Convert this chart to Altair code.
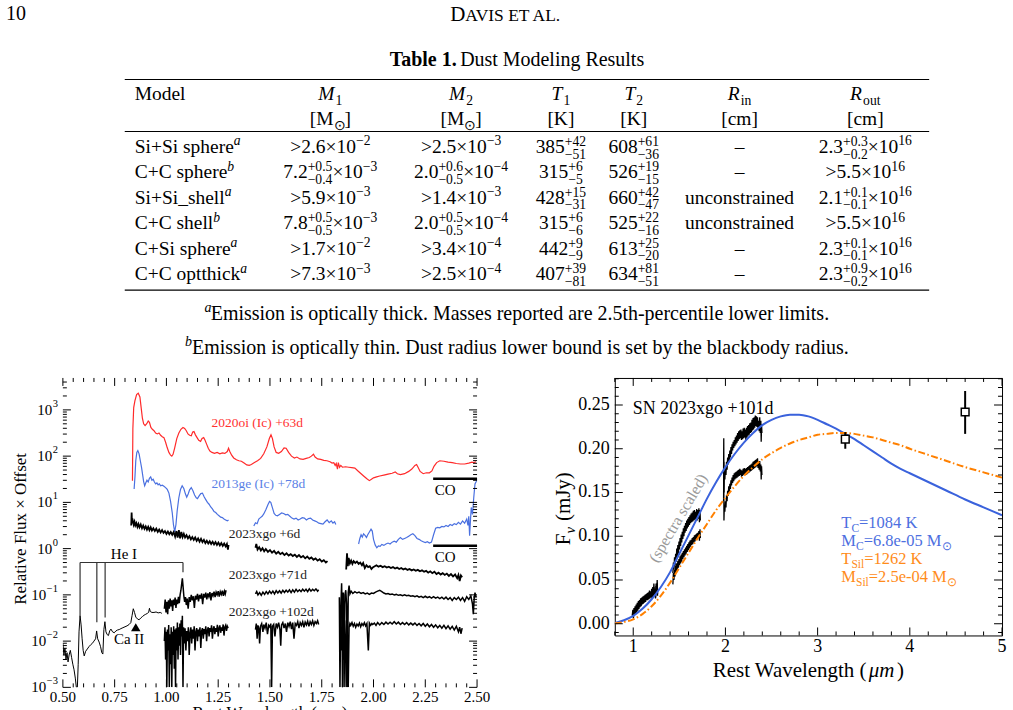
import altair as alt
import pandas as pd

FONT = "Liberation Serif"

# ---------------------------------------------------------------------------
# Left panel spectra: (rest wavelength [um], log10 relative flux x offset)
# ---------------------------------------------------------------------------
SN2020OI = [
    (0.836, 1.47), (0.838, 2.6), (0.842, 3.05), (0.848, 3.2), (0.856, 3.33), (0.864, 3.36),
    (0.872, 3.28), (0.878, 3.05), (0.884, 2.82), (0.890, 2.70), (0.897, 2.66), (0.905, 2.70),
    (0.912, 2.76), (0.918, 2.73), (0.925, 2.62), (0.932, 2.58), (0.940, 2.55), (0.948, 2.50),
    (0.956, 2.48), (0.964, 2.50), (0.972, 2.45), (0.980, 2.42), (0.988, 2.40), (0.996, 2.30),
    (1.004, 2.18), (1.012, 2.08), (1.020, 2.02), (1.026, 2.00), (1.032, 2.04), (1.040, 2.18),
    (1.050, 2.38), (1.060, 2.50), (1.070, 2.58), (1.080, 2.62), (1.088, 2.60), (1.096, 2.55),
    (1.104, 2.48), (1.112, 2.45), (1.120, 2.44), (1.127, 2.52), (1.133, 2.53), (1.140, 2.46),
    (1.148, 2.40), (1.156, 2.34), (1.165, 2.32), (1.172, 2.38), (1.180, 2.40), (1.186, 2.35),
    (1.194, 2.26), (1.202, 2.17), (1.210, 2.11), (1.220, 2.08), (1.232, 2.06), (1.245, 2.08),
    (1.258, 2.05), (1.270, 2.07), (1.282, 2.06), (1.294, 2.10), (1.300, 2.17), (1.306, 2.10),
    (1.315, 2.02), (1.325, 1.96), (1.338, 1.92), (1.350, 1.90), (1.362, 1.89), (1.375, 1.85),
    (1.388, 1.81), (1.400, 1.80), (1.410, 1.82), (1.425, 1.86), (1.440, 1.90), (1.455, 1.95),
    (1.470, 2.05), (1.485, 2.20), (1.497, 2.38), (1.505, 2.46), (1.512, 2.38), (1.520, 2.20),
    (1.530, 2.08), (1.542, 2.06), (1.555, 2.10), (1.568, 2.18), (1.578, 2.17), (1.590, 2.08),
    (1.604, 2.00), (1.618, 1.96), (1.630, 1.98), (1.645, 1.94), (1.660, 1.93), (1.675, 1.95),
    (1.690, 1.97), (1.700, 2.00), (1.710, 2.04), (1.718, 1.98), (1.730, 1.94), (1.745, 1.93),
    (1.760, 1.91), (1.775, 1.90), (1.790, 1.88), (1.800, 1.85), (1.808, 1.86), (1.815, 1.80),
    (1.820, 1.84), (1.826, 1.72), (1.830, 1.86), (1.836, 1.76), (1.842, 1.80), (1.850, 1.76),
    (1.865, 1.77), (1.880, 1.76), (1.895, 1.75), (1.910, 1.74), (1.925, 1.68), (1.940, 1.62),
    (1.955, 1.56), (1.968, 1.51), (1.980, 1.47), (1.990, 1.50), (2.000, 1.53), (2.015, 1.55),
    (2.030, 1.57), (2.050, 1.59), (2.070, 1.61), (2.090, 1.63), (2.105, 1.66), (2.115, 1.62),
    (2.130, 1.60), (2.150, 1.62), (2.170, 1.67), (2.185, 1.72), (2.200, 1.80), (2.208, 1.82),
    (2.215, 1.76), (2.225, 1.67), (2.240, 1.62), (2.255, 1.64), (2.270, 1.64), (2.282, 1.68),
    (2.292, 1.78), (2.305, 1.86), (2.320, 1.90), (2.340, 1.89), (2.360, 1.87), (2.380, 1.86),
    (2.400, 1.84), (2.420, 1.83), (2.440, 1.83), (2.460, 1.85), (2.475, 1.87), (2.485, 1.86),
    (2.495, 1.88),
]

SN2013GE = [
    [(0.844, 1.29), (0.848, 1.55), (0.852, 1.90), (0.857, 2.08), (0.862, 2.12), (0.868, 2.05),
     (0.874, 1.90), (0.880, 1.75), (0.885, 1.60), (0.890, 1.45), (0.895, 1.36), (0.900, 1.42),
     (0.906, 1.48), (0.912, 1.44), (0.918, 1.52), (0.924, 1.55), (0.930, 1.48), (0.936, 1.50),
     (0.942, 1.44), (0.948, 1.40), (0.954, 1.42), (0.960, 1.38), (0.966, 1.40), (0.972, 1.36),
     (0.980, 1.37), (0.988, 1.35), (0.996, 1.32), (1.004, 1.28), (1.012, 1.20), (1.020, 1.02),
     (1.028, 0.78), (1.034, 0.52), (1.040, 0.36), (1.046, 0.52), (1.052, 0.82), (1.060, 1.10),
     (1.068, 1.28), (1.076, 1.36), (1.084, 1.30), (1.092, 1.18), (1.098, 1.11), (1.105, 1.18),
     (1.112, 1.27), (1.120, 1.32), (1.128, 1.25), (1.136, 1.16), (1.144, 1.10), (1.150, 1.08),
     (1.158, 1.14), (1.166, 1.19), (1.174, 1.20), (1.182, 1.12), (1.190, 1.06), (1.198, 1.00),
     (1.206, 0.96), (1.214, 0.90), (1.222, 0.86), (1.230, 0.80), (1.238, 0.78), (1.246, 0.74),
     (1.254, 0.71), (1.262, 0.68), (1.270, 0.67), (1.278, 0.64), (1.286, 0.62), (1.294, 0.60),
     (1.300, 0.62)],
    [(1.422, 0.49), (1.430, 0.56), (1.438, 0.54), (1.446, 0.64), (1.454, 0.67), (1.462, 0.70),
     (1.470, 0.75), (1.480, 0.84), (1.490, 0.95), (1.498, 1.02), (1.504, 1.00), (1.512, 0.88),
     (1.520, 0.76), (1.528, 0.72), (1.536, 0.71), (1.546, 0.74), (1.556, 0.77), (1.566, 0.76),
     (1.576, 0.73), (1.586, 0.74), (1.596, 0.70), (1.606, 0.66), (1.616, 0.64), (1.626, 0.66),
     (1.636, 0.62), (1.646, 0.64), (1.656, 0.67), (1.666, 0.66), (1.676, 0.62), (1.686, 0.65),
     (1.696, 0.66), (1.706, 0.62), (1.716, 0.60), (1.726, 0.58), (1.736, 0.55), (1.746, 0.54),
     (1.756, 0.53), (1.766, 0.58), (1.776, 0.62), (1.786, 0.56), (1.796, 0.60), (1.804, 0.55),
     (1.812, 0.58), (1.818, 0.52)],
    [(1.928, 0.10), (1.934, 0.22), (1.940, 0.30), (1.946, 0.25), (1.952, 0.32), (1.960, 0.28),
     (1.966, 0.24), (1.972, 0.30), (1.980, 0.36), (1.988, 0.42), (1.994, 0.38), (2.000, 0.20),
     (2.008, 0.08), (2.016, 0.02), (2.024, 0.06), (2.032, 0.05), (2.040, 0.09), (2.050, 0.07),
     (2.060, 0.10), (2.070, 0.12), (2.080, 0.10), (2.090, 0.14), (2.100, 0.16), (2.110, 0.14),
     (2.120, 0.20), (2.130, 0.24), (2.140, 0.20), (2.150, 0.22), (2.160, 0.24), (2.170, 0.27),
     (2.180, 0.30), (2.190, 0.32), (2.200, 0.28), (2.210, 0.22), (2.220, 0.20), (2.230, 0.17),
     (2.240, 0.15), (2.250, 0.13), (2.260, 0.15), (2.270, 0.12), (2.280, 0.14), (2.290, 0.30),
     (2.300, 0.44), (2.310, 0.46), (2.320, 0.45), (2.330, 0.48), (2.340, 0.47), (2.350, 0.50),
     (2.360, 0.48), (2.370, 0.52), (2.380, 0.50), (2.390, 0.54), (2.400, 0.52), (2.410, 0.57),
     (2.420, 0.53), (2.430, 0.60), (2.440, 0.55), (2.450, 0.64), (2.456, 0.50), (2.460, 0.70),
     (2.464, 0.28), (2.468, 0.60), (2.472, 0.89), (2.478, 0.74), (2.484, 1.10), (2.490, 1.40),
     (2.496, 1.45), (2.500, 1.50)],
]

XGO_6D = [
    [(0.830, 0.50), (0.832, 0.78), (0.834, 0.55), (0.838, 0.60), (0.842, 0.52), (0.846, 0.58),
     (0.850, 0.50), (0.855, 0.55), (0.860, 0.47), (0.865, 0.53), (0.870, 0.46), (0.876, 0.52),
     (0.882, 0.44), (0.888, 0.50), (0.894, 0.43), (0.900, 0.48), (0.906, 0.41), (0.912, 0.47),
     (0.918, 0.40), (0.924, 0.46), (0.930, 0.39), (0.937, 0.44), (0.944, 0.38), (0.951, 0.43),
     (0.958, 0.36), (0.965, 0.41), (0.972, 0.35), (0.979, 0.40), (0.986, 0.34), (0.993, 0.38),
     (1.000, 0.32), (1.007, 0.37), (1.014, 0.31), (1.021, 0.36), (1.028, 0.30), (1.035, 0.36),
     (1.042, 0.26), (1.048, 0.38), (1.054, 0.24), (1.060, 0.40), (1.066, 0.22), (1.072, 0.36),
     (1.078, 0.25), (1.084, 0.32), (1.090, 0.24), (1.097, 0.29), (1.104, 0.22), (1.111, 0.27),
     (1.118, 0.20), (1.125, 0.25), (1.132, 0.19), (1.139, 0.24), (1.146, 0.17), (1.153, 0.22),
     (1.160, 0.15), (1.167, 0.21), (1.174, 0.14), (1.181, 0.19), (1.188, 0.12), (1.195, 0.17),
     (1.202, 0.11), (1.209, 0.16), (1.216, 0.10), (1.223, 0.15), (1.230, 0.09), (1.237, 0.14),
     (1.244, 0.08), (1.251, 0.13), (1.258, 0.07), (1.265, 0.12), (1.272, 0.06), (1.279, 0.11),
     (1.286, 0.05), (1.292, 0.10), (1.297, -0.02), (1.300, 0.08)],
    [(1.430, 0.02), (1.434, 0.10), (1.440, -0.02), (1.448, 0.03), (1.456, -0.04), (1.464, 0.01),
     (1.472, -0.06), (1.480, -0.01), (1.490, -0.07), (1.500, -0.03), (1.510, -0.09), (1.520, -0.05),
     (1.530, -0.11), (1.540, -0.07), (1.550, -0.12), (1.560, -0.09), (1.570, -0.14), (1.580, -0.10),
     (1.590, -0.15), (1.600, -0.12), (1.610, -0.16), (1.620, -0.13), (1.630, -0.18), (1.640, -0.14),
     (1.650, -0.19), (1.660, -0.16), (1.670, -0.21), (1.680, -0.17), (1.690, -0.22), (1.700, -0.19),
     (1.710, -0.24), (1.720, -0.21), (1.730, -0.26), (1.740, -0.23), (1.750, -0.28), (1.760, -0.25),
     (1.770, -0.30), (1.778, -0.27)],
    [(1.868, -0.45), (1.872, -0.10), (1.876, -0.38), (1.880, -0.20), (1.886, -0.32), (1.892, -0.26),
     (1.898, -0.33), (1.904, -0.27), (1.912, -0.31), (1.920, -0.28), (1.928, -0.33), (1.936, -0.30),
     (1.944, -0.36), (1.950, -0.31), (1.958, -0.42), (1.966, -0.36), (1.974, -0.40), (1.982, -0.38),
     (1.990, -0.44), (1.998, -0.40), (2.006, -0.38), (2.014, -0.36), (2.024, -0.39), (2.034, -0.37),
     (2.044, -0.40), (2.054, -0.38), (2.064, -0.41), (2.074, -0.39), (2.084, -0.42), (2.094, -0.40),
     (2.104, -0.43), (2.114, -0.41), (2.124, -0.44), (2.134, -0.42), (2.144, -0.45), (2.154, -0.43),
     (2.164, -0.46), (2.174, -0.44), (2.184, -0.47), (2.194, -0.45), (2.204, -0.48), (2.214, -0.46),
     (2.224, -0.49), (2.234, -0.47), (2.244, -0.50), (2.254, -0.48), (2.264, -0.52), (2.274, -0.49),
     (2.284, -0.53), (2.294, -0.50), (2.304, -0.55), (2.314, -0.52), (2.324, -0.56), (2.334, -0.53),
     (2.344, -0.57), (2.354, -0.54), (2.364, -0.59), (2.374, -0.55), (2.384, -0.60), (2.394, -0.56),
     (2.404, -0.64), (2.410, -0.57), (2.416, -0.70), (2.422, -0.58), (2.428, -0.62)],
]

XGO_71D_OPT = [
    (0.500, -2.05), (0.505, -2.30), (0.510, -2.15), (0.515, -2.40), (0.520, -2.25), (0.525, -2.45),
    (0.530, -2.30), (0.536, -2.20), (0.542, -2.35), (0.548, -2.50), (0.554, -2.62), (0.560, -2.80),
    (0.565, -3.0), (0.570, -3.0), (0.574, -2.5), (0.578, -1.80), (0.583, -1.45), (0.588, -1.65),
    (0.593, -1.95), (0.598, -2.20), (0.603, -2.32), (0.610, -2.22), (0.618, -2.17), (0.626, -2.12),
    (0.634, -2.08), (0.642, -2.05), (0.650, -2.00), (0.658, -1.95), (0.663, -1.78), (0.668, -1.95),
    (0.675, -2.02), (0.682, -2.12), (0.688, -2.25), (0.693, -2.28), (0.698, -1.75), (0.703, -1.58),
    (0.708, -1.80), (0.714, -1.86), (0.720, -1.88), (0.726, -1.78), (0.732, -1.74), (0.740, -1.80),
    (0.748, -1.82), (0.756, -1.78), (0.764, -1.76), (0.772, -1.75), (0.780, -1.73), (0.790, -1.71),
    (0.800, -1.69), (0.810, -1.67), (0.820, -1.64), (0.828, -1.60), (0.834, -1.45), (0.840, -1.30),
    (0.846, -1.38), (0.852, -1.48), (0.860, -1.52), (0.868, -1.54), (0.876, -1.50), (0.884, -1.47),
    (0.892, -1.44), (0.900, -1.42), (0.908, -1.40), (0.914, -1.38), (0.918, -1.29), (0.922, -1.36),
    (0.930, -1.38), (0.940, -1.38), (0.950, -1.37), (0.960, -1.39), (0.970, -1.38), (0.978, -1.40),
]

XGO_71D = [
    [(0.990, -1.30), (0.994, -1.10), (0.998, -1.38), (1.002, -1.15), (1.006, -1.42), (1.010, -1.12),
     (1.014, -1.30), (1.018, -1.08), (1.022, -1.25), (1.026, -1.12), (1.030, -1.35), (1.034, -1.10),
     (1.038, -1.22), (1.042, -1.06), (1.046, -1.28), (1.050, -1.10), (1.054, -1.20), (1.058, -1.04),
     (1.062, -1.18), (1.066, -1.00), (1.070, -0.90), (1.074, -0.75), (1.077, -0.64), (1.080, -0.80),
     (1.084, -1.02), (1.088, -1.15), (1.092, -1.05), (1.096, -1.22), (1.100, -1.08), (1.105, -1.30),
     (1.110, -1.05), (1.115, -1.15), (1.120, -1.00), (1.125, -1.12), (1.130, -1.03), (1.135, -1.28),
     (1.140, -1.02), (1.145, -1.10), (1.150, -0.98), (1.155, -1.14), (1.160, -1.00), (1.165, -1.08),
     (1.170, -0.97), (1.175, -1.20), (1.180, -0.98), (1.185, -1.06), (1.190, -0.95), (1.195, -1.10),
     (1.200, -0.97), (1.205, -1.04), (1.210, -0.94), (1.215, -1.12), (1.220, -0.96), (1.225, -1.02),
     (1.230, -0.93), (1.235, -1.05), (1.240, -0.94), (1.245, -1.00), (1.250, -0.92), (1.255, -1.04),
     (1.260, -0.93), (1.265, -0.99), (1.270, -0.91), (1.275, -1.02), (1.280, -0.92), (1.284, -0.98),
     (1.288, -0.90)],
    [(1.430, -0.98), (1.436, -0.93), (1.442, -1.00), (1.450, -0.95), (1.458, -1.01), (1.466, -0.94),
     (1.474, -0.99), (1.482, -0.93), (1.490, -0.98), (1.498, -0.92), (1.506, -0.97), (1.514, -0.92),
     (1.522, -0.98), (1.530, -0.91), (1.538, -0.96), (1.546, -0.91), (1.554, -0.96), (1.562, -0.90),
     (1.570, -0.95), (1.578, -0.90), (1.586, -0.94), (1.594, -0.89), (1.602, -0.95), (1.610, -0.89),
     (1.618, -0.94), (1.626, -0.88), (1.634, -0.93), (1.642, -0.89), (1.650, -0.93), (1.658, -0.88),
     (1.666, -0.92), (1.674, -0.88), (1.682, -0.93), (1.690, -0.87), (1.698, -0.92), (1.706, -0.88),
     (1.714, -0.91), (1.722, -0.87), (1.730, -0.92), (1.735, -0.89)],
    [(1.835, -1.05), (1.838, -3.0), (1.842, -1.30), (1.846, -0.75), (1.850, -1.80), (1.854, -0.95),
     (1.858, -3.0), (1.862, -1.00), (1.866, -0.90), (1.870, -1.20), (1.874, -3.0), (1.878, -0.95),
     (1.882, -0.80), (1.886, -0.98), (1.892, -0.92), (1.900, -0.97), (1.910, -0.93), (1.920, -0.96),
     (1.930, -0.94), (1.940, -0.97), (1.950, -0.95), (1.960, -0.98), (1.970, -0.96), (1.980, -0.99),
     (1.990, -0.96), (2.000, -0.97), (2.010, -0.94), (2.020, -0.92), (2.030, -0.90), (2.040, -0.93),
     (2.050, -0.96), (2.060, -0.98), (2.070, -0.97), (2.080, -0.99), (2.090, -0.98), (2.100, -1.00),
     (2.110, -0.99), (2.120, -1.01), (2.130, -1.00), (2.140, -1.02), (2.150, -1.00), (2.160, -1.02),
     (2.170, -1.01), (2.180, -1.03), (2.190, -1.02), (2.200, -1.04), (2.210, -1.02), (2.220, -1.05),
     (2.230, -1.03), (2.240, -1.06), (2.250, -1.03), (2.260, -1.06), (2.270, -1.04), (2.280, -1.07),
     (2.290, -1.04), (2.300, -1.07), (2.310, -1.05), (2.320, -1.08), (2.330, -1.05), (2.340, -1.09),
     (2.350, -1.05), (2.360, -1.10), (2.370, -1.06), (2.380, -1.12), (2.390, -1.06), (2.400, -1.10),
     (2.410, -1.05), (2.420, -1.12), (2.430, -1.06), (2.440, -1.14), (2.450, -1.04), (2.460, -1.10),
     (2.470, -1.02), (2.478, -1.20), (2.482, -1.42), (2.486, -1.08), (2.490, -0.95), (2.495, -1.05)],
]

XGO_102D = [
    [(0.990, -2.00), (0.993, -1.70), (0.996, -2.40), (0.999, -1.80), (1.002, -3.0), (1.005, -1.75),
     (1.008, -2.20), (1.011, -1.65), (1.014, -3.0), (1.017, -1.85), (1.020, -2.5), (1.023, -1.70),
     (1.026, -3.0), (1.029, -1.80), (1.032, -2.30), (1.035, -1.68), (1.038, -2.60), (1.041, -1.75),
     (1.044, -3.0), (1.047, -1.72), (1.050, -2.20), (1.053, -1.60), (1.056, -2.40), (1.059, -1.70),
     (1.062, -2.10), (1.065, -1.62), (1.068, -2.30), (1.071, -1.55), (1.074, -1.90), (1.077, -1.45),
     (1.080, -3.0), (1.083, -1.70), (1.086, -2.05), (1.090, -1.72), (1.094, -2.20), (1.098, -1.78),
     (1.102, -2.00), (1.106, -1.70), (1.110, -2.30), (1.114, -1.82), (1.118, -1.70), (1.122, -2.05),
     (1.126, -1.75), (1.130, -1.95), (1.134, -1.68), (1.138, -2.20), (1.142, -1.80), (1.146, -1.72),
     (1.150, -2.00), (1.154, -1.75), (1.158, -1.90), (1.162, -1.70), (1.166, -2.15), (1.170, -1.78),
     (1.174, -1.72), (1.178, -1.95), (1.182, -1.74), (1.186, -1.85), (1.190, -1.68), (1.194, -2.00),
     (1.198, -1.76), (1.202, -1.70), (1.206, -1.90), (1.210, -1.72), (1.214, -1.80), (1.218, -1.66),
     (1.222, -1.95), (1.226, -1.74), (1.230, -1.68), (1.234, -1.85), (1.238, -1.72), (1.242, -1.80),
     (1.246, -1.65), (1.250, -1.90), (1.254, -1.72), (1.258, -1.66), (1.262, -1.82), (1.266, -1.70),
     (1.270, -1.78), (1.274, -1.64), (1.278, -1.88), (1.282, -1.70), (1.286, -1.66), (1.290, -1.78),
     (1.294, -1.68), (1.298, -1.72)],
    [(1.430, -1.75), (1.434, -1.62), (1.438, -1.95), (1.442, -1.66), (1.446, -1.72), (1.450, -2.05),
     (1.454, -1.68), (1.460, -1.62), (1.466, -1.80), (1.470, -1.64), (1.476, -1.72), (1.482, -1.60),
     (1.488, -1.85), (1.494, -1.66), (1.500, -1.70), (1.504, -1.62), (1.508, -3.0), (1.512, -1.68),
     (1.518, -1.64), (1.524, -1.90), (1.530, -1.62), (1.536, -1.70), (1.542, -1.60), (1.548, -1.75),
     (1.552, -2.10), (1.556, -1.65), (1.562, -1.60), (1.568, -1.72), (1.574, -1.62), (1.580, -1.80),
     (1.586, -1.60), (1.592, -1.68), (1.598, -1.58), (1.604, -1.74), (1.610, -1.60), (1.616, -1.95),
     (1.622, -1.62), (1.628, -1.66), (1.634, -1.58), (1.640, -1.72), (1.646, -1.60), (1.652, -1.66),
     (1.658, -1.58), (1.664, -1.70), (1.670, -1.59), (1.676, -1.65), (1.682, -1.57), (1.688, -1.68),
     (1.694, -1.58), (1.700, -1.64), (1.706, -1.56), (1.712, -1.66), (1.718, -1.58), (1.724, -1.62),
     (1.730, -1.56), (1.735, -1.64)],
    [(1.840, -1.70), (1.844, -2.20), (1.848, -1.50), (1.850, -3.0), (1.853, -1.60), (1.856, -2.40),
     (1.860, -1.55), (1.864, -1.90), (1.868, -3.0), (1.872, -1.62), (1.876, -2.10), (1.878, -3.0),
     (1.882, -1.70), (1.886, -1.62), (1.890, -1.66), (1.896, -1.60), (1.902, -1.68), (1.908, -1.62),
     (1.914, -1.70), (1.920, -1.63), (1.926, -1.67), (1.932, -1.61), (1.938, -1.69), (1.944, -1.62),
     (1.950, -1.66), (1.956, -1.60), (1.962, -1.67), (1.968, -1.62), (1.975, -2.20), (1.980, -1.61),
     (1.986, -1.66), (1.992, -1.62), (1.996, -1.64), (2.004, -1.61), (2.012, -1.66), (2.020, -1.60),
     (2.030, -1.65), (2.040, -1.60), (2.050, -1.64), (2.060, -1.59), (2.070, -1.63), (2.080, -1.59),
     (2.090, -1.63), (2.100, -1.58), (2.110, -1.63), (2.120, -1.59), (2.130, -1.64), (2.140, -1.60),
     (2.150, -1.64), (2.160, -1.60), (2.170, -1.65), (2.180, -1.61), (2.190, -1.65), (2.200, -1.61),
     (2.210, -1.66), (2.220, -1.62), (2.230, -1.67), (2.240, -1.62), (2.250, -1.68), (2.260, -1.63),
     (2.270, -1.69), (2.280, -1.64), (2.290, -1.70), (2.300, -1.65), (2.310, -1.71), (2.320, -1.66),
     (2.330, -1.72), (2.340, -1.66), (2.350, -1.73), (2.360, -1.67), (2.370, -1.74), (2.380, -1.68),
     (2.390, -1.76), (2.400, -1.68), (2.410, -1.80), (2.416, -1.70), (2.422, -1.84), (2.428, -1.72)],
]

# ---------------------------------------------------------------------------
# Right panel: dust SED fit for SN 2023xgo (+101 d), F_nu in mJy
# ---------------------------------------------------------------------------
BB_CARBON = [
    (0.8, 0.001), (0.9, 0.004), (1.0, 0.009), (1.1, 0.017), (1.2, 0.028), (1.3, 0.042),
    (1.4, 0.059), (1.5, 0.080), (1.6, 0.101), (1.7, 0.122), (1.8, 0.143), (1.9, 0.162),
    (2.0, 0.179), (2.1, 0.194), (2.2, 0.207), (2.3, 0.218), (2.4, 0.227), (2.5, 0.233),
    (2.6, 0.237), (2.7, 0.239), (2.8, 0.239), (2.9, 0.237), (3.0, 0.233), (3.1, 0.228),
    (3.2, 0.223), (3.3, 0.217), (3.4, 0.211), (3.5, 0.204), (3.6, 0.197), (3.7, 0.190),
    (3.8, 0.183), (3.9, 0.177), (4.0, 0.172), (4.2, 0.162), (4.4, 0.152), (4.6, 0.142),
    (4.8, 0.133), (5.0, 0.124),
]
BB_SILICATE = [
    (0.8, 0.0005), (0.9, 0.002), (1.0, 0.005), (1.1, 0.011), (1.2, 0.020), (1.3, 0.032),
    (1.4, 0.047), (1.5, 0.064), (1.6, 0.081), (1.7, 0.098), (1.8, 0.114), (1.9, 0.130),
    (2.0, 0.144), (2.1, 0.157), (2.2, 0.169), (2.3, 0.179), (2.4, 0.188), (2.5, 0.195),
    (2.6, 0.201), (2.7, 0.206), (2.8, 0.210), (2.9, 0.213), (3.0, 0.216), (3.1, 0.217),
    (3.2, 0.218), (3.3, 0.218), (3.4, 0.217), (3.5, 0.215), (3.6, 0.213), (3.7, 0.210),
    (3.8, 0.207), (3.9, 0.204), (4.0, 0.200), (4.2, 0.193), (4.4, 0.186), (4.6, 0.179),
    (4.8, 0.173), (5.0, 0.167),
]
SPEC_UPPER = [
    [(0.990, 0.010), (0.996, 0.016), (1.002, 0.008), (1.008, 0.018), (1.014, 0.012), (1.020, 0.020),
     (1.026, 0.013), (1.032, 0.022), (1.038, 0.016), (1.044, 0.024), (1.050, 0.017), (1.056, 0.026),
     (1.062, 0.019), (1.068, 0.027), (1.074, 0.021), (1.080, 0.029), (1.086, 0.022), (1.092, 0.030),
     (1.098, 0.024), (1.104, 0.031), (1.110, 0.025), (1.116, 0.032), (1.122, 0.027), (1.128, 0.033),
     (1.134, 0.027), (1.140, 0.034), (1.146, 0.029), (1.152, 0.035), (1.158, 0.029), (1.164, 0.036),
     (1.170, 0.030), (1.176, 0.038), (1.182, 0.031), (1.188, 0.037), (1.194, 0.032), (1.200, 0.040),
     (1.206, 0.030), (1.212, 0.042), (1.218, 0.033), (1.224, 0.046), (1.230, 0.034), (1.236, 0.040),
     (1.242, 0.030), (1.248, 0.046), (1.254, 0.036), (1.260, 0.050), (1.264, 0.034)],
    [(1.430, 0.058), (1.436, 0.070), (1.442, 0.062), (1.448, 0.076), (1.454, 0.066), (1.460, 0.080),
     (1.466, 0.071), (1.472, 0.086), (1.478, 0.076), (1.484, 0.090), (1.490, 0.080), (1.496, 0.094),
     (1.502, 0.085), (1.508, 0.098), (1.514, 0.089), (1.520, 0.102), (1.526, 0.093), (1.532, 0.105),
     (1.538, 0.097), (1.544, 0.109), (1.550, 0.100), (1.556, 0.112), (1.562, 0.104), (1.568, 0.115),
     (1.574, 0.106), (1.580, 0.118), (1.586, 0.109), (1.592, 0.120), (1.598, 0.111), (1.604, 0.122),
     (1.610, 0.113), (1.616, 0.124), (1.622, 0.115), (1.628, 0.126), (1.634, 0.116), (1.640, 0.127),
     (1.646, 0.117), (1.652, 0.129), (1.658, 0.118), (1.664, 0.130), (1.670, 0.119), (1.676, 0.128),
     (1.682, 0.120), (1.688, 0.131), (1.694, 0.118), (1.700, 0.130), (1.706, 0.120), (1.712, 0.132),
     (1.718, 0.116), (1.724, 0.130), (1.728, 0.118)],
    [(1.980, 0.175), (1.982, 0.212), (1.984, 0.150), (1.988, 0.172), (1.994, 0.165), (2.000, 0.178),
     (2.006, 0.170), (2.012, 0.185), (2.018, 0.176), (2.024, 0.190), (2.030, 0.182), (2.036, 0.194),
     (2.042, 0.186), (2.048, 0.198), (2.054, 0.190), (2.060, 0.202), (2.066, 0.194), (2.072, 0.205),
     (2.078, 0.198), (2.084, 0.208), (2.090, 0.201), (2.096, 0.210), (2.102, 0.203), (2.108, 0.213),
     (2.114, 0.205), (2.120, 0.215), (2.126, 0.207), (2.132, 0.218), (2.138, 0.209), (2.144, 0.220),
     (2.150, 0.211), (2.156, 0.221), (2.162, 0.212), (2.168, 0.222), (2.174, 0.210), (2.180, 0.220),
     (2.186, 0.211), (2.192, 0.223), (2.198, 0.212), (2.204, 0.224), (2.210, 0.213), (2.216, 0.222),
     (2.222, 0.210), (2.228, 0.224), (2.234, 0.213), (2.240, 0.226), (2.246, 0.215), (2.252, 0.227),
     (2.258, 0.216), (2.264, 0.229), (2.270, 0.218), (2.276, 0.230), (2.282, 0.219), (2.288, 0.233),
     (2.294, 0.221), (2.300, 0.235), (2.306, 0.222), (2.312, 0.236), (2.318, 0.224), (2.324, 0.238),
     (2.330, 0.226), (2.336, 0.237), (2.342, 0.225), (2.348, 0.236), (2.354, 0.222), (2.360, 0.232),
     (2.366, 0.220), (2.372, 0.236), (2.378, 0.218), (2.384, 0.232), (2.388, 0.208), (2.392, 0.228),
     (2.396, 0.218)],
]
SPEC_LOWER = [
    [(0.990, 0.008), (0.996, 0.013), (1.002, 0.006), (1.008, 0.015), (1.014, 0.010), (1.020, 0.017),
     (1.026, 0.011), (1.032, 0.019), (1.038, 0.013), (1.044, 0.021), (1.050, 0.015), (1.056, 0.023),
     (1.062, 0.017), (1.068, 0.024), (1.074, 0.019), (1.080, 0.026), (1.086, 0.020), (1.092, 0.027),
     (1.098, 0.022), (1.104, 0.028), (1.110, 0.023), (1.116, 0.030), (1.122, 0.024), (1.128, 0.031),
     (1.134, 0.025), (1.140, 0.032), (1.146, 0.027), (1.152, 0.033), (1.158, 0.027), (1.164, 0.034),
     (1.170, 0.028), (1.176, 0.035), (1.182, 0.029), (1.188, 0.035), (1.194, 0.030), (1.200, 0.037),
     (1.206, 0.029), (1.212, 0.039), (1.218, 0.031), (1.224, 0.042), (1.230, 0.032), (1.236, 0.038),
     (1.242, 0.029), (1.248, 0.043), (1.254, 0.034), (1.260, 0.046), (1.264, 0.032)],
    [(1.430, 0.045), (1.436, 0.058), (1.442, 0.050), (1.448, 0.062), (1.454, 0.054), (1.460, 0.066),
     (1.466, 0.058), (1.472, 0.069), (1.478, 0.061), (1.484, 0.072), (1.490, 0.064), (1.496, 0.074),
     (1.502, 0.067), (1.508, 0.077), (1.514, 0.069), (1.520, 0.079), (1.526, 0.071), (1.532, 0.081),
     (1.538, 0.074), (1.544, 0.083), (1.550, 0.076), (1.556, 0.085), (1.562, 0.078), (1.568, 0.087),
     (1.574, 0.080), (1.580, 0.089), (1.586, 0.082), (1.592, 0.091), (1.598, 0.084), (1.604, 0.093),
     (1.610, 0.086), (1.616, 0.095), (1.622, 0.088), (1.628, 0.096), (1.634, 0.090), (1.640, 0.098),
     (1.646, 0.091), (1.652, 0.099), (1.658, 0.093), (1.664, 0.101), (1.670, 0.094), (1.676, 0.102),
     (1.682, 0.096), (1.688, 0.103), (1.694, 0.097), (1.700, 0.104), (1.706, 0.098), (1.712, 0.106),
     (1.718, 0.095), (1.724, 0.108), (1.728, 0.098)],
    [(1.980, 0.140), (1.982, 0.185), (1.984, 0.118), (1.988, 0.135), (1.994, 0.128), (2.000, 0.140),
     (2.006, 0.133), (2.012, 0.147), (2.018, 0.140), (2.024, 0.152), (2.030, 0.146), (2.036, 0.157),
     (2.042, 0.150), (2.048, 0.160), (2.054, 0.154), (2.060, 0.164), (2.066, 0.158), (2.072, 0.167),
     (2.078, 0.161), (2.084, 0.170), (2.090, 0.163), (2.096, 0.172), (2.102, 0.165), (2.108, 0.173),
     (2.114, 0.166), (2.120, 0.174), (2.126, 0.167), (2.132, 0.175), (2.138, 0.168), (2.144, 0.176),
     (2.150, 0.169), (2.156, 0.177), (2.162, 0.170), (2.168, 0.176), (2.174, 0.168), (2.180, 0.175),
     (2.186, 0.169), (2.192, 0.177), (2.198, 0.170), (2.204, 0.178), (2.210, 0.171), (2.216, 0.177),
     (2.222, 0.170), (2.228, 0.178), (2.234, 0.171), (2.240, 0.179), (2.246, 0.172), (2.252, 0.180),
     (2.258, 0.173), (2.264, 0.181), (2.270, 0.174), (2.276, 0.182), (2.282, 0.175), (2.288, 0.183),
     (2.294, 0.176), (2.300, 0.185), (2.306, 0.177), (2.312, 0.186), (2.318, 0.178), (2.324, 0.187),
     (2.330, 0.179), (2.336, 0.188), (2.342, 0.180), (2.348, 0.189), (2.354, 0.178), (2.360, 0.186),
     (2.366, 0.176), (2.372, 0.186), (2.378, 0.174), (2.384, 0.182), (2.388, 0.165), (2.392, 0.180),
     (2.396, 0.170)],
]
PHOT_WAVE = [3.3, 4.6]
PHOT_FLUX = [0.211, 0.242]
PHOT_LOW = [0.200, 0.217]
PHOT_HIGH = [0.219, 0.266]

# ---------------------------------------------------------------------------
# Table 1 contents
# ---------------------------------------------------------------------------
HEAD_NAMES = ["Model", "*M*_{1}", "*M*_{2}", "*T*_{1}", "*T*_{2}", "*R*_{in}", "*R*_{out}"]
HEAD_UNITS = ["", "[M_{⊙}]", "[M_{⊙}]", "[K]", "[K]", "[cm]", "[cm]"]
MODELS = ["Si+Si sphere^{*a*}", "C+C sphere^{*b*}", "Si+Si_shell^{*a*}", "C+C shell^{*b*}",
          "C+Si sphere^{*a*}", "C+C optthick^{*a*}"]
COL_M1 = [">2.6×10^{−2}", "7.2^{+0.5}_{−0.4}×10^{−3}", ">5.9×10^{−3}", "7.8^{+0.5}_{−0.5}×10^{−3}",
          ">1.7×10^{−2}", ">7.3×10^{−3}"]
COL_M2 = [">2.5×10^{−3}", "2.0^{+0.6}_{−0.5}×10^{−4}", ">1.4×10^{−3}", "2.0^{+0.5}_{−0.5}×10^{−4}",
          ">3.4×10^{−4}", ">2.5×10^{−4}"]
COL_T1 = ["385^{+42}_{−51}", "315^{+6}_{−5}", "428^{+15}_{−31}", "315^{+6}_{−6}", "442^{+9}_{−9}",
          "407^{+39}_{−81}"]
COL_T2 = ["608^{+61}_{−36}", "526^{+19}_{−15}", "660^{+42}_{−47}", "525^{+22}_{−16}", "613^{+25}_{−20}",
          "634^{+81}_{−51}"]
COL_RIN = ["–", "–", "unconstrained", "unconstrained", "–", "–"]
COL_ROUT = ["2.3^{+0.3}_{−0.2}×10^{16}", ">5.5×10^{16}", "2.1^{+0.1}_{−0.1}×10^{16}", ">5.5×10^{16}",
            "2.3^{+0.1}_{−0.1}×10^{16}", "2.3^{+0.9}_{−0.2}×10^{16}"]
NOTES = ["^{*a*}Emission is optically thick. Masses reported are 2.5th-percentile lower limits.",
         "^{*b*}Emission is optically thin. Dust radius lower bound is set by the blackbody radius."]

# ---------------------------------------------------------------------------
# Layout (page pixels)
# ---------------------------------------------------------------------------
L_X0, L_Y0, L_W, L_H = 62, 377, 415, 310
R_X0, R_Y0, R_W, R_H = 615, 377, 388, 258

# ---------------------------------------------------------------------------
# Rich-text helper: splits "^{..}", "_{..}", "*italic*", "~bold~" into
# separately positioned text pieces (advance widths of Times metrics).
# ---------------------------------------------------------------------------
_ADV = {c: 500 for c in "0123456789"}
_ADV.update({" ": 250, "(": 333, ")": 333, "+": 564, "−": 564, "×": 564, ">": 564, "=": 564,
             "-": 333, ".": 250, ",": 250, "[": 333, "]": 333, "_": 500, "–": 500, "⊙": 800,
             "μ": 576, "ν": 500})
_ADV.update(dict(zip("ABCDEFGHIJKLMNOPQRSTUVWXYZ",
                     [722, 667, 667, 722, 611, 556, 722, 722, 333, 389, 722, 611, 889, 722, 722,
                      556, 722, 667, 556, 611, 722, 722, 944, 722, 722, 611])))
_ADV.update(dict(zip("abcdefghijklmnopqrstuvwxyz",
                     [444, 500, 444, 500, 444, 333, 500, 500, 278, 278, 500, 278, 778, 500, 500,
                      500, 500, 333, 389, 278, 500, 500, 722, 500, 500, 444])))


def adv(s, size):
    return sum(_ADV.get(c, 500) for c in s) * size / 1000.0


def parse(s):
    toks, buf, it, bd, i = [], "", False, False, 0
    while i < len(s):
        c = s[i]
        if c in "*~" or (c in "^_" and s[i + 1:i + 2] == "{"):
            if buf:
                toks.append(("n", buf, it, bd))
                buf = ""
        if c == "*":
            it = not it
            i += 1
        elif c == "~":
            bd = not bd
            i += 1
        elif c in "^_" and s[i + 1:i + 2] == "{":
            j = s.index("}", i)
            a = s[i + 2:j]
            i = j + 1
            if c == "^" and s[i:i + 2] == "_{":
                k = s.index("}", i)
                toks.append(("ss", a, s[i + 2:k]))
                i = k + 1
            else:
                toks.append(("sup" if c == "^" else "sub", a))
        else:
            buf += c
            i += 1
    if buf:
        toks.append(("n", buf, it, bd))
    return toks


def unstar(t):
    if len(t) > 1 and t[0] == "*" and t[-1] == "*":
        return t[1:-1], True
    return t, False


def rich(markup, x, y, size, color="black", anchor="middle", angle=0, ox=0.0, oy=0.0):
    items = []
    pos = [0.0]
    small = size * 0.7

    def put(txt, dy, sz, it, bd):
        lead = len(txt) - len(txt.lstrip(" "))
        pos[0] += adv(txt[:lead], sz)
        core = txt.strip(" ")
        if core:
            items.append((pos[0], dy, core, sz, it, bd))
        pos[0] += adv(txt[lead:], sz)

    for t in parse(markup):
        if t[0] == "n":
            put(t[1], 0.0, size, t[2], t[3])
        elif t[0] in ("sup", "sub"):
            txt, it = unstar(t[1])
            put(txt, -0.38 * size if t[0] == "sup" else 0.24 * size, small, it, False)
        else:
            a, ia = unstar(t[1])
            b, ib = unstar(t[2])
            p0 = pos[0]
            items.append((p0, -0.36 * size, a, small, ia, False))
            items.append((p0, 0.30 * size, b, small, ib, False))
            pos[0] = p0 + max(adv(a, small), adv(b, small))
    start = {"start": 0.0, "middle": -pos[0] / 2, "end": -pos[0]}[anchor]
    rows = []
    for p, dy, txt, sz, it, bd in items:
        if angle == 0:
            px, py = x + start + p, y + dy
        else:
            px, py = x + dy, y - (start + p)
        rows.append(dict(px=px - ox, py=py - oy, text=txt, size=sz, color=color,
                         style="italic" if it else "normal", weight="bold" if bd else "normal",
                         angle=angle))
    return rows


def text_marks(rows):
    df = pd.DataFrame(rows)
    out = []
    for style, weight in [("normal", "normal"), ("italic", "normal"), ("normal", "bold")]:
        sub = df[(df["style"] == style) & (df["weight"] == weight)]
        if len(sub) == 0:
            continue
        out.append(alt.Chart(sub).mark_text(font=FONT, align="left", baseline="alphabetic",
                                            fontStyle=style, fontWeight=weight).encode(
            x=alt.X("px:Q", scale=None, axis=None),
            y=alt.Y("py:Q", scale=None, axis=None),
            text="text:N",
            size=alt.Size("size:Q", scale=None, legend=None),
            color=alt.Color("color:N", scale=None, legend=None),
            angle=alt.Angle("angle:Q", scale=None, legend=None)))
    return out


# ---------------------------------------------------------------------------
# Page text: running head, Table 1 and footnotes (placed relative to left panel)
# ---------------------------------------------------------------------------
TFS = 19.5
page = []
LO = dict(ox=L_X0, oy=L_Y0)
page += rich("10", 5, 18.5, 20, anchor="start", **LO)
w_d, w_rest = adv("D", 21), adv("AVIS ET AL.", 17.5)
x_head = 507 - (w_d + w_rest) / 2
page += rich("D", x_head, 19, 21, anchor="start", **LO)
page += rich("AVIS ET AL.", x_head + w_d, 19, 17.5, anchor="start", **LO)
page += rich("~Table 1.~ Dust Modeling Results", 517, 64, 20, **LO)

COL_X = [134, 330, 461, 561, 634, 740, 866]
ROW_MID = [145, 170.5, 196, 221.5, 247, 272.5]
for j, (h, u) in enumerate(zip(HEAD_NAMES, HEAD_UNITS)):
    anc = "start" if j == 0 else "middle"
    page += rich(h, COL_X[j], 98.5, TFS, anchor=anc, **LO)
    if u:
        page += rich(u, COL_X[j], 123.5, TFS, anchor=anc, **LO)
for i, mid in enumerate(ROW_MID):
    base = mid + 6.3
    cells = [MODELS[i], COL_M1[i], COL_M2[i], COL_T1[i], COL_T2[i], COL_RIN[i], COL_ROUT[i]]
    for j, cell in enumerate(cells):
        page += rich(cell, COL_X[j], base, TFS, anchor="start" if j == 0 else "middle", **LO)
page += rich(NOTES[0], 517, 319, 20, **LO)
page += rich(NOTES[1], 517, 353, 20, **LO)

# left panel axis titles
page += rich("Rest Wavelength (*μm*)", L_X0 + L_W / 2, 718, 17, **LO)
page += rich("Relative Flux × Offset", 25, 528, 17, angle=270, **LO)

sheet = pd.DataFrame({"px": [0 - L_X0], "px2": [1013 - L_X0], "py": [0 - L_Y0], "py2": [710 - L_Y0]})
sheet_mark = alt.Chart(sheet).mark_rect(fill="white").encode(
    x=alt.X("px:Q", scale=None, axis=None), x2="px2:Q",
    y=alt.Y("py:Q", scale=None, axis=None), y2="py2:Q")

table_rules = pd.DataFrame({"px": [124 - L_X0] * 3, "px2": [930 - L_X0] * 3,
                            "py": [78 - L_Y0, 130 - L_Y0, 289 - L_Y0]})
rule_mark = alt.Chart(table_rules).mark_rule(color="black", strokeWidth=1.1).encode(
    x=alt.X("px:Q", scale=None, axis=None), x2="px2:Q",
    y=alt.Y("py:Q", scale=None, axis=None))

page_layer = alt.layer(sheet_mark, rule_mark, *text_marks(page))

# ---------------------------------------------------------------------------
# Left panel: spectra sequence
# ---------------------------------------------------------------------------
LX = alt.Scale(domain=[0.5, 2.5], nice=False, zero=False)
LY = alt.Scale(type="log", domain=[1e-3, 4900], nice=False)


def spec_frame(segments):
    recs = []
    for k, seg in enumerate(segments):
        for x, lg in seg:
            recs.append({"x": x, "f": 10 ** lg, "seg": k})
    return pd.DataFrame(recs)


def spec_line(segments, color, width):
    return alt.Chart(spec_frame(segments)).mark_line(color=color, strokeWidth=width, clip=True).encode(
        x=alt.X("x:Q", scale=LX, axis=None),
        y=alt.Y("f:Q", scale=LY, axis=None),
        detail="seg:N")


def tick_rules(values, axis, side, length, xs, ys, w, h):
    base = alt.Chart(pd.DataFrame({"v": values})).mark_rule(color="black", strokeWidth=1)
    if axis == "x":
        y0, y1 = (h, h - length) if side == "bottom" else (0, length)
        return base.encode(x=alt.X("v:Q", scale=xs, axis=None), y=alt.value(y0), y2=alt.value(y1))
    x0, x1 = (0, length) if side == "left" else (w, w - length)
    return base.encode(y=alt.Y("v:Q", scale=ys, axis=None), x=alt.value(x0), x2=alt.value(x1))


LX_MAJOR = [0.5, 0.75, 1.0, 1.25, 1.5, 1.75, 2.0, 2.25, 2.5]
LX_MINOR = [round(0.5 + 0.05 * i, 2) for i in range(41) if i % 5]
LY_MAJOR = [1e-3, 1e-2, 1e-1, 1.0, 10.0, 100.0, 1000.0]
LY_MINOR = [k * 10.0 ** d for d in range(-3, 4) for k in range(2, 10) if k * 10.0 ** d < 4900]

left_layers = [
    spec_line([SN2020OI], "#ff2a2a", 1.2),
    spec_line(SN2013GE, "#4a70e0", 1.2),
    spec_line([XGO_71D_OPT], "black", 1.0),
    spec_line(XGO_6D, "black", 1.8),
    spec_line(XGO_71D, "black", 1.5),
    spec_line(XGO_102D, "black", 1.5),
]
for side in ("bottom", "top"):
    left_layers.append(tick_rules(LX_MAJOR, "x", side, 8, LX, LY, L_W, L_H))
    left_layers.append(tick_rules(LX_MINOR, "x", side, 4, LX, LY, L_W, L_H))
for side in ("left", "right"):
    left_layers.append(tick_rules(LY_MAJOR, "y", side, 8, LX, LY, L_W, L_H))
    left_layers.append(tick_rules(LY_MINOR, "y", side, 4, LX, LY, L_W, L_H))

# tick labels
left_layers.append(alt.Chart(pd.DataFrame({"v": LX_MAJOR, "t": ["%.2f" % v for v in LX_MAJOR]}))
                   .mark_text(font=FONT, fontSize=15, baseline="middle", align="center")
                   .encode(x=alt.X("v:Q", scale=LX, axis=None), y=alt.value(L_H + 10), text="t:N"))
for vals, exps in [([1e-3, 1e-2, 1e-1], ["−3", "−2", "−1"]), ([1.0, 10.0, 100.0, 1000.0], ["0", "1", "2", "3"])]:
    df = pd.DataFrame({"v": vals, "e": exps, "b": ["10"] * len(vals)})
    ew = adv(exps[0], 10.5)
    left_layers.append(alt.Chart(df).mark_text(font=FONT, fontSize=10.5, baseline="middle", align="right", dy=-6)
                       .encode(y=alt.Y("v:Q", scale=LY, axis=None), x=alt.value(-5), text="e:N"))
    left_layers.append(alt.Chart(df).mark_text(font=FONT, fontSize=15, baseline="middle", align="right")
                       .encode(y=alt.Y("v:Q", scale=LY, axis=None), x=alt.value(-5.5 - ew), text="b:N"))

# spectrum labels
SPEC_LABELS = pd.DataFrame({
    "t": ["2020oi (Ic) +63d", "2013ge (Ic) +78d", "2023xgo +6d", "2023xgo +71d", "2023xgo +102d"],
    "x": [1.218, 1.218, 1.301, 1.301, 1.301],
    "f": [10 ** 2.72, 10 ** 1.40, 10 ** 0.32, 10 ** -0.57, 10 ** -1.375],
    "c": ["#ff3030", "#5a7fe6", "#222222", "#222222", "#222222"],
})
left_layers.append(alt.Chart(SPEC_LABELS).mark_text(font=FONT, fontSize=13.5, align="left", baseline="middle")
                   .encode(x=alt.X("x:Q", scale=LX, axis=None), y=alt.Y("f:Q", scale=LY, axis=None),
                           text="t:N", color=alt.Color("c:N", scale=None, legend=None)))

# He I line markers
HEI_WAVE = [0.583, 0.664, 0.704, 1.080]
HEI_FOOT = [10 ** -1.45, 10 ** -1.59, 10 ** -1.49, 10 ** -0.51]
HEI_BAR = 10 ** -0.30
left_layers.append(alt.Chart(pd.DataFrame({"x": [HEI_WAVE[0]], "x2": [HEI_WAVE[-1]], "y": [HEI_BAR]}))
                   .mark_rule(color="#333333", strokeWidth=1.2)
                   .encode(x=alt.X("x:Q", scale=LX, axis=None), x2="x2:Q", y=alt.Y("y:Q", scale=LY, axis=None)))
left_layers.append(alt.Chart(pd.DataFrame({"x": HEI_WAVE, "y": [HEI_BAR] * 4, "y2": HEI_FOOT}))
                   .mark_rule(color="#333333", strokeWidth=1.2)
                   .encode(x=alt.X("x:Q", scale=LX, axis=None), y=alt.Y("y:Q", scale=LY, axis=None), y2="y2:Q"))
# CO bandheads
left_layers.append(alt.Chart(pd.DataFrame({"x": [2.288, 2.288], "x2": [2.5, 2.5], "y": [10 ** 1.51, 10 ** 0.06]}))
                   .mark_rule(color="black", strokeWidth=2.5)
                   .encode(x=alt.X("x:Q", scale=LX, axis=None), x2="x2:Q", y=alt.Y("y:Q", scale=LY, axis=None)))
# Ca II marker
left_layers.append(alt.Chart(pd.DataFrame({"x": [0.852], "y": [10 ** -1.70]}))
                   .mark_point(shape="triangle-up", filled=True, color="black", size=90, opacity=1)
                   .encode(x=alt.X("x:Q", scale=LX, axis=None), y=alt.Y("y:Q", scale=LY, axis=None)))
LINE_LABELS = pd.DataFrame({"t": ["He I", "Ca II", "CO", "CO"],
                            "x": [0.795, 0.82, 2.346, 2.346],
                            "y": [10 ** -0.115, 10 ** -1.95, 10 ** 1.27, 10 ** -0.18]})
left_layers.append(alt.Chart(LINE_LABELS).mark_text(font=FONT, fontSize=15, align="center", baseline="middle")
                   .encode(x=alt.X("x:Q", scale=LX, axis=None), y=alt.Y("y:Q", scale=LY, axis=None), text="t:N"))

left_plot = alt.layer(*left_layers)
left = alt.layer(page_layer, left_plot).resolve_scale(x="independent", y="independent").properties(
    width=L_W, height=L_H)

# ---------------------------------------------------------------------------
# Right panel: SED with blackbody dust fits
# ---------------------------------------------------------------------------
RX = alt.Scale(domain=[0.8, 5.0], nice=False, zero=False)
RY = alt.Scale(domain=[-0.0134, 0.2809], nice=False, zero=False)


def xy_frame(segments):
    recs = []
    for k, seg in enumerate(segments):
        for x, y in seg:
            recs.append({"x": x, "y": y, "seg": k})
    return pd.DataFrame(recs)


def r_enc(**kw):
    return dict(x=alt.X("x:Q", scale=RX, axis=None), y=alt.Y("y:Q", scale=RY, axis=None), **kw)


right_layers = [
    alt.Chart(xy_frame(SPEC_UPPER)).mark_line(color="black", strokeWidth=1.3).encode(**r_enc(detail="seg:N")),
    alt.Chart(xy_frame(SPEC_LOWER)).mark_line(color="black", strokeWidth=1.3).encode(**r_enc(detail="seg:N")),
    alt.Chart(xy_frame([BB_CARBON])).mark_line(color="#3a62dc", strokeWidth=2, interpolate="monotone",
                                               clip=True).encode(**r_enc()),
    alt.Chart(xy_frame([BB_SILICATE])).mark_line(color="#ff8000", strokeWidth=2, interpolate="monotone",
                                                 strokeDash=[7, 2.5, 1.5, 2.5], clip=True).encode(**r_enc()),
]
phot = pd.DataFrame({"x": PHOT_WAVE, "y": PHOT_FLUX, "lo": PHOT_LOW, "hi": PHOT_HIGH})
right_layers.append(alt.Chart(phot).mark_rule(color="black", strokeWidth=2).encode(
    x=alt.X("x:Q", scale=RX, axis=None), y=alt.Y("lo:Q", scale=RY, axis=None), y2="hi:Q"))
right_layers.append(alt.Chart(phot).mark_point(shape="square", filled=True, fill="white", stroke="black",
                                               strokeWidth=1.5, size=60, opacity=1).encode(**r_enc()))

RX_MAJOR = [1, 2, 3, 4, 5]
RX_MINOR = [round(0.8 + 0.2 * i, 1) for i in range(22) if round(0.8 + 0.2 * i, 1) % 1]
RY_MAJOR = [0.0, 0.05, 0.10, 0.15, 0.20, 0.25]
RY_MINOR = [round(-0.01 + 0.01 * i, 2) for i in range(30) if round(-0.01 + 0.01 * i, 2) not in RY_MAJOR]
for side in ("bottom", "top"):
    right_layers.append(tick_rules(RX_MAJOR, "x", side, 8, RX, RY, R_W, R_H))
    right_layers.append(tick_rules(RX_MINOR, "x", side, 4, RX, RY, R_W, R_H))
for side in ("left", "right"):
    right_layers.append(tick_rules(RY_MAJOR, "y", side, 8, RX, RY, R_W, R_H))
    right_layers.append(tick_rules(RY_MINOR, "y", side, 4, RX, RY, R_W, R_H))
right_layers.append(alt.Chart(pd.DataFrame({"v": RX_MAJOR, "t": [str(v) for v in RX_MAJOR]}))
                    .mark_text(font=FONT, fontSize=18, baseline="middle", align="center")
                    .encode(x=alt.X("v:Q", scale=RX, axis=None), y=alt.value(R_H + 12), text="t:N"))
right_layers.append(alt.Chart(pd.DataFrame({"v": RY_MAJOR, "t": ["%.2f" % v for v in RY_MAJOR]}))
                    .mark_text(font=FONT, fontSize=18, baseline="middle", align="right")
                    .encode(y=alt.Y("v:Q", scale=RY, axis=None), x=alt.value(-5), text="t:N"))
right_plot = alt.layer(*right_layers)

RO = dict(ox=R_X0, oy=R_Y0)
BLUE_TXT, ORANGE_TXT = "#4d6fe0", "#ff8c1a"
rtext = []
rtext += rich("SN 2023xgo +101d", 633, 413, 18, anchor="start", **RO)
rtext += rich("T_{C}=1084 K", 842, 527.5, 16.5, color=BLUE_TXT, anchor="start", **RO)
rtext += rich("M_{C}=6.8e-05 M_{⊙}", 842, 545.5, 16.5, color=BLUE_TXT, anchor="start", **RO)
rtext += rich("T_{Sil}=1262 K", 842, 563, 16.5, color=ORANGE_TXT, anchor="start", **RO)
rtext += rich("M_{Sil}=2.5e-04 M_{⊙}", 842, 581, 16.5, color=ORANGE_TXT, anchor="start", **RO)
rtext += rich("Rest Wavelength (*μm*)", R_X0 + R_W / 2, 677, 21, **RO)
rtext += rich("F_{*ν*} (mJy)", 570, 508, 21, angle=270, **RO)
scaled_note = alt.Chart(pd.DataFrame({"px": [678.7 - R_X0], "py": [517.5 - R_Y0], "t": ["(spectra scaled)"]})) \
    .mark_text(font=FONT, fontSize=16, color="#9a9a9a", angle=300.6, align="center", baseline="middle") \
    .encode(x=alt.X("px:Q", scale=None, axis=None), y=alt.Y("py:Q", scale=None, axis=None), text="t:N")
right_text = alt.layer(scaled_note, *text_marks(rtext))

right = alt.layer(right_plot, right_text).resolve_scale(x="independent", y="independent").properties(
    width=R_W, height=R_H)

chart = alt.hconcat(left, right, spacing=R_X0 - (L_X0 + L_W), bounds="flush").properties(
    padding=0, background="white"
).configure_view(stroke="black", strokeWidth=1)

chart.save("out.html", embed_options={"renderer": "svg", "actions": False})
